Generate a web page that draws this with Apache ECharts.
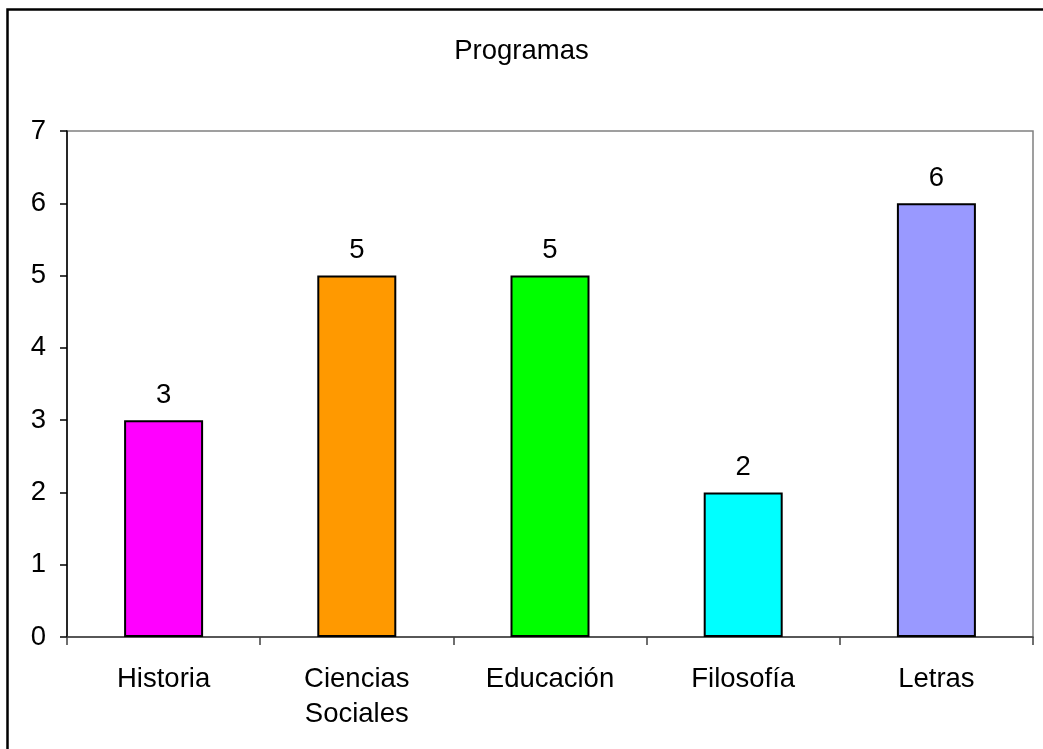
<!DOCTYPE html>
<html>
<head>
<meta charset="utf-8">
<script src="https://cdn.jsdelivr.net/npm/echarts@6/dist/echarts.min.js"></script>
<style>
html,body{margin:0;padding:0;background:#fff;}
#chart{width:1043px;height:749px;}
</style>
</head>
<body>
<div id="chart"></div>
<script>
const titleText = 'Programas';
const categories = ['Historia', 'Ciencias\nSociales', 'Educación', 'Filosofía', 'Letras'];
const values = [3, 5, 5, 2, 6];
const barColors = ['#FF00FF', '#FF9900', '#00FF00', '#00FFFF', '#9999FF'];
const yTicks = [0, 1, 2, 3, 4, 5, 6, 7];

const FONT = '"Liberation Sans", Arial, sans-serif';
const FS = 27.5;
const chart = echarts.init(document.getElementById('chart'), null, {renderer: 'canvas'});
chart.setOption({
  backgroundColor: '#fff',
  animation: false,
  title: {
    text: titleText,
    left: 'center',
    top: 32,
    textStyle: {fontFamily: FONT, fontSize: FS, fontWeight: 'normal', color: '#000'}
  },
  graphic: [{
    type: 'rect',
    shape: {x: 7.5, y: 9.5, width: 1100, height: 800},
    style: {fill: 'none', stroke: '#000', lineWidth: 2.5},
    silent: true
  }],
  grid: {
    left: 67, right: 10, top: 131, bottom: 112,
    show: true, borderColor: '#808080', borderWidth: 1.5, backgroundColor: 'transparent'
  },
  xAxis: {
    type: 'category',
    data: categories,
    axisLine: {lineStyle: {color: '#404040', width: 1.5}},
    axisTick: {show: true, length: 8, lineStyle: {color: '#404040', width: 1.5}},
    axisLabel: {fontFamily: FONT, fontSize: FS, color: '#000', margin: 25, lineHeight: 35, interval: 0}
  },
  yAxis: {
    type: 'value',
    min: yTicks[0],
    max: yTicks[yTicks.length - 1],
    interval: 1,
    splitLine: {show: false},
    axisLine: {show: true, lineStyle: {color: '#000', width: 1.5}},
    axisTick: {show: true, length: 7, lineStyle: {color: '#000', width: 1.5}},
    axisLabel: {fontFamily: FONT, fontSize: FS, color: '#000', margin: 21}
  },
  series: [{
    type: 'bar',
    data: values.map((v, i) => ({value: v, itemStyle: {color: barColors[i]}})),
    barWidth: 79,
    itemStyle: {borderColor: '#000', borderWidth: 2},
    label: {
      show: true, position: 'top', distance: 11,
      fontFamily: FONT, fontSize: FS, color: '#000'
    }
  }]
});
</script>
</body>
</html>
